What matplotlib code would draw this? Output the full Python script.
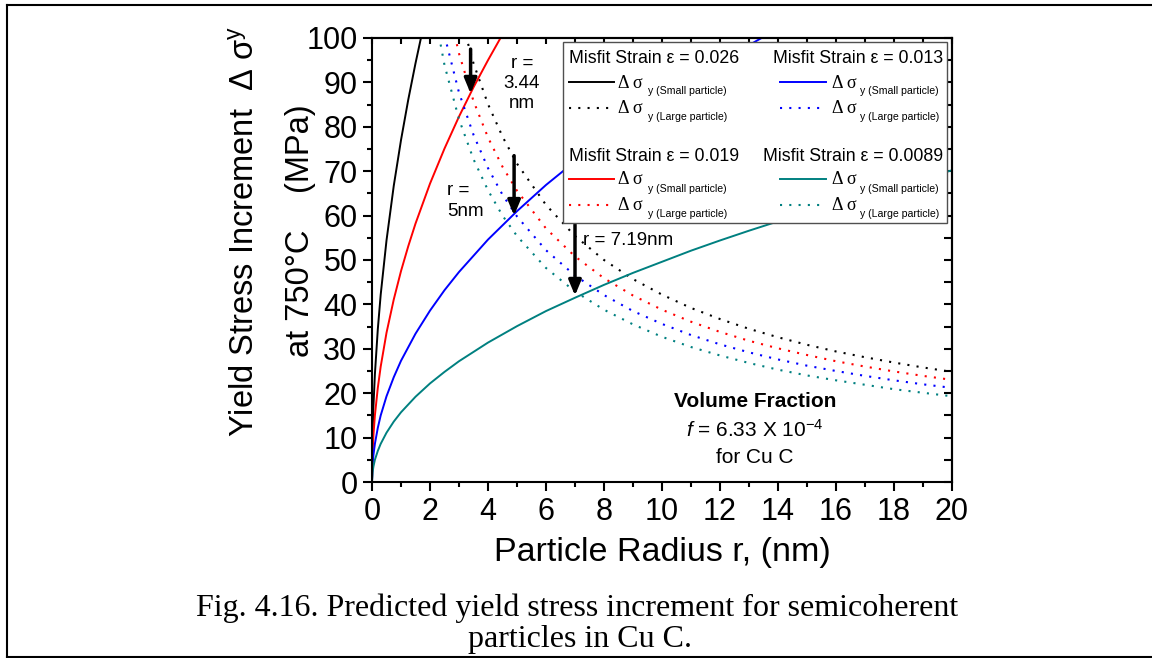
"""Predicted yield stress increment vs particle radius for semicoherent particles in Cu C
(small-particle and large-particle branches for four misfit strains)."""

import matplotlib
matplotlib.use("Agg")
from matplotlib import pyplot as plt
from matplotlib.lines import Line2D
from matplotlib.patches import Rectangle
from matplotlib.ticker import MultipleLocator

W, H = 1152, 658

# misfit strains and colours (black, red, blue, teal)
STRAINS = ["0.026", "0.019", "0.013", "0.0089"]
COLORS = ["#000000", "#ff0000", "#0000ff", "#008080"]

# small-particle branch (solid), MPa vs r (nm)
R_SMALL_026 = [0, 0.02, 0.05, 0.1, 0.2, 0.3, 0.5, 0.75, 1.0, 1.25, 1.5, 1.75]
DS_SMALL_026 = [0, 10.9, 17.2, 24.3, 34.4, 42.2, 54.4, 66.7, 77.0, 86.1, 94.3, 101.9]

R_SMALL_019 = [0, 0.02, 0.05, 0.1, 0.2, 0.3, 0.5, 0.75, 1.0, 1.25, 1.5, 2.0, 2.5, 3.0, 3.5, 4.0, 4.5]
DS_SMALL_019 = [0, 6.7, 10.6, 15.0, 21.2, 26.0, 33.6, 41.1, 47.5, 53.1, 58.2, 67.2, 75.1, 82.3, 88.9, 95.0, 100.8]

R_SMALL_013 = [0, 0.02, 0.05, 0.1, 0.2, 0.3, 0.5, 0.75, 1.0, 1.5, 2.0, 2.5, 3.0, 4, 5, 6, 7, 8, 9, 10,
               11, 12, 13, 14]
DS_SMALL_013 = [0, 3.9, 6.1, 8.6, 12.2, 15.0, 19.3, 23.6, 27.3, 33.4, 38.6, 43.2, 47.3, 54.6, 61.0, 66.9,
                72.2, 77.2, 81.9, 86.3, 90.5, 94.6, 98.4, 102.1]

R_SMALL_0089 = [0, 0.02, 0.05, 0.1, 0.2, 0.3, 0.5, 0.75, 1.0, 1.5, 2.0, 2.5, 3.0, 4, 5, 6, 7, 8, 9, 10,
                11, 12, 13, 14, 15, 16, 17, 18, 19, 20]
DS_SMALL_0089 = [0, 2.2, 3.5, 5.0, 7.0, 8.6, 11.1, 13.6, 15.7, 19.2, 22.2, 24.8, 27.2, 31.4, 35.1, 38.5,
                 41.5, 44.4, 47.1, 49.6, 52.1, 54.4, 56.6, 58.7, 60.8, 62.8, 64.7, 66.6, 68.4, 70.2]

# large-particle branch (dotted)
R_LARGE = [2.0, 2.5, 3.0, 3.5, 4.0, 4.5, 5.0, 6, 7, 8, 9, 10, 11, 12, 13, 14, 15, 16, 17, 18, 19, 20]
DS_LARGE_026 = [144.7, 122.0, 106.1, 94.3, 85.1, 77.8, 71.7, 62.4, 55.4, 50.0, 45.7, 42.2, 39.2, 36.7,
                34.5, 32.6, 30.9, 29.4, 28.1, 26.9, 25.8, 24.8]
DS_LARGE_019 = [131.0, 110.7, 96.5, 85.8, 77.6, 71.0, 65.6, 57.1, 50.8, 45.9, 42.0, 38.8, 36.1, 33.8,
                31.8, 30.1, 28.6, 27.2, 26.0, 24.9, 23.9, 23.0]
DS_LARGE_013 = [118.9, 100.6, 87.7, 78.2, 70.7, 64.7, 59.8, 52.2, 46.5, 42.1, 38.5, 35.6, 33.1, 31.0,
                29.2, 27.6, 26.2, 25.0, 23.9, 22.9, 22.0, 21.2]
DS_LARGE_0089 = [111.2, 93.9, 81.7, 72.7, 65.7, 60.0, 55.4, 48.2, 42.9, 38.8, 35.5, 32.7, 30.4, 28.5,
                 26.8, 25.3, 24.0, 22.9, 21.9, 20.9, 20.1, 19.3]

# crossover arrows: radius, arrow start, arrow tip (MPa)
ARROW_R = [3.4, 4.9, 7.0]
ARROW_FROM = [97.5, 73.5, 58.0]
ARROW_TO = [87.5, 60.0, 42.0]

SMALL = [(R_SMALL_026, DS_SMALL_026), (R_SMALL_019, DS_SMALL_019),
         (R_SMALL_013, DS_SMALL_013), (R_SMALL_0089, DS_SMALL_0089)]
LARGE = [DS_LARGE_026, DS_LARGE_019, DS_LARGE_013, DS_LARGE_0089]

DOT = (0, (1, 3.45))
DOT_LW = 1.5

plt.rcParams.update({
    "font.family": ["Liberation Sans", "DejaVu Sans"],
    "mathtext.fontset": "custom",
    "mathtext.rm": "Liberation Sans",
    "mathtext.it": "Liberation Sans:italic",
    "axes.linewidth": 1.5,
})


def fpos(px, py):
    """pixel position in the 1152x658 picture -> figure fraction"""
    return px / W, 1 - py / H


fig = plt.figure(figsize=(W / 100, H / 100), dpi=100)
ax = fig.add_axes([372 / W, 1 - 482 / H, 580 / W, 444 / H])

for (r, ds), large, col in zip(SMALL, LARGE, COLORS):
    ax.plot(r, ds, color=col, lw=1.4, solid_joinstyle="round")
    ax.plot(R_LARGE, large, color=col, lw=DOT_LW, linestyle=DOT)

ax.set_xlim(0, 20)
ax.set_ylim(0, 100)
ax.xaxis.set_major_locator(MultipleLocator(2))
ax.xaxis.set_minor_locator(MultipleLocator(1))
ax.yaxis.set_major_locator(MultipleLocator(10))
ax.yaxis.set_minor_locator(MultipleLocator(5))
ax.tick_params(which="major", direction="out", length=6.5, width=1.5, labelsize=22, pad=4)
ax.tick_params(which="minor", direction="out", length=3.5, width=1.5)

# mirrored ticks pointing inwards on top / right
top = ax.secondary_xaxis("top")
top.xaxis.set_major_locator(MultipleLocator(2))
top.xaxis.set_minor_locator(MultipleLocator(1))
top.tick_params(which="both", direction="in", length=4, width=1.5, labeltop=False)
right = ax.secondary_yaxis("right")
right.yaxis.set_major_locator(MultipleLocator(10))
right.yaxis.set_minor_locator(MultipleLocator(5))
right.tick_params(which="both", direction="in", length=6, width=1.5, labelright=False)
for sec in (top, right):
    for sp in sec.spines.values():
        sp.set_linewidth(1.5)

ax.set_xlabel("Particle Radius r, (nm)", fontsize=24.5)
ax.xaxis.set_label_coords(0.5, -0.125)

fig.text(*fpos(246, 231), "Yield Stress Increment  Δ σ$^{\\mathrm{y}}$", rotation=90,
         ha="center", va="center", fontsize=23.5)
fig.text(*fpos(300, 231), "at 750°C    (MPa)", rotation=90, ha="center", va="center", fontsize=23.5)

# crossover arrows and labels
for r, y0, y1 in zip(ARROW_R, ARROW_FROM, ARROW_TO):
    ax.annotate("", xy=(r, y1), xytext=(r, y0),
                arrowprops=dict(arrowstyle="-|>,head_length=0.6,head_width=0.25", color="black",
                                lw=2.5, mutation_scale=15, shrinkA=0, shrinkB=0))
ax.text(5.17, 89.8, "r =\n3.44\nnm", ha="center", va="center", fontsize=13.5, linespacing=1.25)
ax.text(2.59, 63.3, "r =\n5nm", ha="left", va="center", fontsize=13.5, linespacing=1.25)
ax.text(7.28, 54.5, "r = 7.19nm", ha="left", va="center", fontsize=13.5)

ax.text(13.2, 18.2, "Volume Fraction", ha="center", va="center", fontsize=15, fontweight="bold")
ax.text(13.2, 11.7, "$\\mathit{f}$ = 6.33 X 10$^{-4}$", ha="center", va="center", fontsize=15)
ax.text(13.2, 5.6, "for Cu C", ha="center", va="center", fontsize=15)

# legend, built by hand: two columns x two blocks
fig.add_artist(Rectangle(fpos(563, 223), 384 / W, 181 / H, transform=fig.transFigure,
                         facecolor="white", edgecolor="#505050", lw=1.0, zorder=5))
blocks = {0: (0, 63.3, 82), 2: (1, 63.3, 82), 1: (0, 161, 179), 3: (1, 161, 179)}
for i, (strain, col) in enumerate(zip(STRAINS, COLORS)):
    column, title_y, line_y = blocks[i]
    if column == 0:
        fig.text(*fpos(569, title_y), f"Misfit Strain ε = {strain}", ha="left", va="baseline",
                 fontsize=12.8, zorder=6)
        x0, x1, xd, xs = 569, 614, 618, 648
    else:
        fig.text(*fpos(943, title_y), f"Misfit Strain ε = {strain}", ha="right", va="baseline",
                 fontsize=12.8, zorder=6)
        x0, x1, xd, xs = 780, 826, 832, 860
    for k, (style, lw, name) in enumerate([("-", 1.4, "Small"), (DOT, DOT_LW, "Large")]):
        ly = line_y + k * 25.5
        (ax0, ay), (ax1, _) = fpos(x0, ly), fpos(x1, ly)
        fig.add_artist(Line2D([ax0, ax1], [ay, ay], color=col, lw=lw, linestyle=style,
                              transform=fig.transFigure, zorder=6))
        fig.text(*fpos(xd, ly + 5.5), "Δ σ", family="Liberation Serif", fontsize=13,
                 ha="left", va="baseline", zorder=6)
        fig.text(*fpos(xs, ly + 12.5), f"y ({name} particle)", fontsize=7.6,
                 ha="left", va="baseline", zorder=6)

# caption and page frame
fig.text(*fpos(577, 608), "Fig. 4.16. Predicted yield stress increment for semicoherent",
         family="Liberation Serif", fontsize=23, ha="center", va="center")
fig.text(*fpos(580, 639), "particles in Cu C.", family="Liberation Serif", fontsize=23,
         ha="center", va="center")
for xs_, ys_ in [([7, 7], [5, 657]), ([7, W], [5, 5]), ([7, W], [657, 657])]:
    fig.add_artist(Line2D([x / W for x in xs_], [1 - y / H for y in ys_], color="black", lw=1.5,
                          transform=fig.transFigure))

fig.savefig("out.png", dpi=100)
